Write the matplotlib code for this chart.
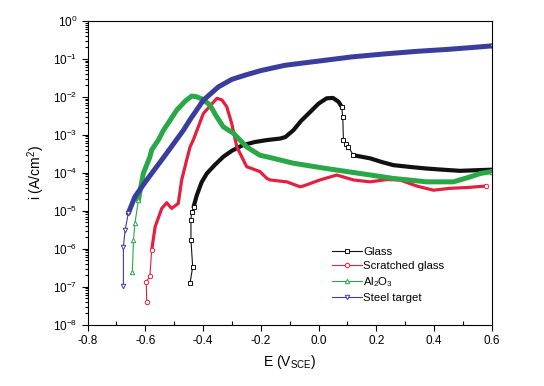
import numpy as np
import matplotlib
matplotlib.use('Agg')
import matplotlib.pyplot as plt
from matplotlib.lines import Line2D
from matplotlib.ticker import MultipleLocator, LogLocator, NullFormatter

plt.rcParams['font.family'] = ['Liberation Sans', 'DejaVu Sans']
plt.rcParams['mathtext.fontset'] = 'custom'
plt.rcParams['mathtext.rm'] = 'Liberation Sans'
plt.rcParams['mathtext.it'] = 'Liberation Sans'

# values (E in V, i given as log10 of A/cm2)
glass_e = [-0.445, -0.436, -0.442, -0.442, -0.44, -0.433, -0.422, -0.405, -0.387, -0.36, -0.33,
           -0.3, -0.261, -0.22, -0.179, -0.133, -0.115, -0.087, -0.06, -0.029, 0.0, 0.028, 0.05,
           0.069, 0.08, 0.084, 0.086, 0.095, 0.103, 0.121, 0.15, 0.178, 0.22, 0.259, 0.32, 0.375,
           0.43, 0.49, 0.56, 0.6]
glass_log = [-6.90, -6.48, -5.77, -5.25, -5.03, -4.90, -4.60, -4.25, -4.02, -3.80, -3.58,
             -3.42, -3.27, -3.19, -3.14, -3.10, -3.06, -2.88, -2.63, -2.40, -2.18, -2.04, -2.03,
             -2.13, -2.26, -2.54, -3.14, -3.25, -3.32, -3.54, -3.58, -3.62, -3.72, -3.80, -3.85,
             -3.89, -3.92, -3.95, -3.93, -3.92]

scr_e = [-0.595, -0.597, -0.584, -0.578, -0.566, -0.543, -0.526, -0.509, -0.486, -0.474, -0.457,
         -0.445, -0.434, -0.399, -0.352, -0.335, -0.318, -0.301, -0.283, -0.249, -0.203, -0.179,
         -0.168, -0.11, -0.064, -0.053, 0.005, 0.063, 0.121, 0.178, 0.236, 0.282, 0.34, 0.398,
         0.456, 0.514, 0.58]
scr_log = [-7.41, -6.89, -6.71, -6.04, -5.42, -4.94, -4.79, -4.94, -4.81, -4.19, -3.67,
           -3.32, -3.14, -2.44, -2.04, -2.08, -2.26, -2.70, -3.32, -3.84, -3.97, -4.15,
           -4.19, -4.24, -4.37, -4.35, -4.19, -4.06, -4.19, -4.24, -4.18, -4.19, -4.35, -4.46,
           -4.41, -4.39, -4.35]

al_e = [-0.645, -0.641, -0.636, -0.624, -0.607, -0.584, -0.578, -0.555, -0.537, -0.491, -0.46,
        -0.439, -0.422, -0.40, -0.376, -0.355, -0.33, -0.295, -0.249, -0.203, -0.179, -0.087,
        0.028, 0.144, 0.259, 0.375, 0.467, 0.525, 0.56, 0.6]
al_log = [-6.61, -5.77, -5.33, -4.72, -4.02, -3.58, -3.40, -3.14, -2.88, -2.35, -2.10,
          -1.98, -2.0, -2.07, -2.22, -2.50, -2.79, -2.96, -3.32, -3.54, -3.58, -3.75,
          -3.89, -4.02, -4.15, -4.24, -4.24, -4.11, -4.02, -3.97]

steel_e = [-0.676, -0.676, -0.67, -0.659, -0.636, -0.595, -0.537, -0.491, -0.468, -0.445, -0.399,
           -0.347, -0.30, -0.25, -0.2, -0.116, 0.0, 0.115, 0.23, 0.346, 0.45, 0.535, 0.6]
steel_log = [-6.98, -5.95, -5.51, -5.07, -4.63, -4.19, -3.60, -3.12, -2.88, -2.60, -2.09,
             -1.74, -1.54, -1.42, -1.31, -1.17, -1.06, -0.95, -0.87, -0.80, -0.75, -0.70, -0.66]

# label, x, y, colour, marker, thick line width, index ranges drawn thick
series = [
    ('Glass', glass_e, glass_log, '#111111', 's', 3.0, [(5, 25), (29, 40)]),
    ('Scratched glass', scr_e, scr_log, '#e3203f', 'o', 2.3, [(3, 37)]),
    ('Al$_2$O$_3$', al_e, al_log, '#2aa847', '^', 3.6, [(3, 30)]),
    ('Steel target', steel_e, steel_log, '#3a3d9c', 'v', 3.6, [(3, 23)]),
]

fig, ax = plt.subplots(figsize=(5.44, 3.86), dpi=100)
fig.subplots_adjust(left=0.161, right=0.904, top=0.946, bottom=0.159)

handles = []
for label, e, lg, col, mk, lw, parts in series:
    e = np.array(e)
    i = 10 ** np.array(lg)
    thick = set()
    for a, b in parts:
        thick.update(range(a + 1, b - 1))
    marks = [k for k in range(len(e)) if k not in thick]
    for a, b in parts:
        ax.plot(e[a:b], i[a:b], color=col, lw=lw, solid_capstyle='round', solid_joinstyle='round')
    ax.plot(e, i, color=col, lw=0.8, marker=mk, ms=3.2, mfc='white', mec=col, mew=0.7,
            markevery=marks)
    handles.append(Line2D([], [], color=col, lw=0.8, marker=mk, ms=3.2, mfc='white', mec=col,
                          mew=0.7, label=label))

ax.set_yscale('log')
ax.set_xlim(-0.8, 0.6)
ax.set_ylim(1e-8, 1)
ax.xaxis.set_major_locator(MultipleLocator(0.2))
ax.xaxis.set_minor_locator(MultipleLocator(0.1))
ax.yaxis.set_major_locator(LogLocator(base=10, numticks=20))
ax.yaxis.set_minor_locator(LogLocator(base=10, subs=np.arange(2, 10), numticks=20))
ax.yaxis.set_minor_formatter(NullFormatter())
ax.set_xticks(ax.get_xticks())
ax.set_xticklabels(['%.1f' % v for v in ax.get_xticks()])
ax.tick_params(which='both', top=False, right=False, labelsize=8.5, width=0.8)
ax.tick_params(axis='x', which='major', direction='out', length=4)
ax.tick_params(axis='x', which='minor', direction='in', length=3)
ax.tick_params(axis='y', which='major', direction='out', length=4)
ax.tick_params(axis='y', which='minor', direction='out', length=2)
ax.set_xlim(-0.8, 0.6)

ax.set_xlabel('E (V$_{\\mathrm{SCE}}$)', fontsize=10)
ax.set_ylabel('i (A/cm$^2$)', fontsize=10)

ax.legend(handles=handles, loc='upper left', bbox_to_anchor=(0.605, 0.255), frameon=False,
          fontsize=8.2, numpoints=1, handlelength=2.6, handletextpad=0.15, labelspacing=0.35,
          borderaxespad=0, borderpad=0)

fig.savefig('out.png', dpi=100)
